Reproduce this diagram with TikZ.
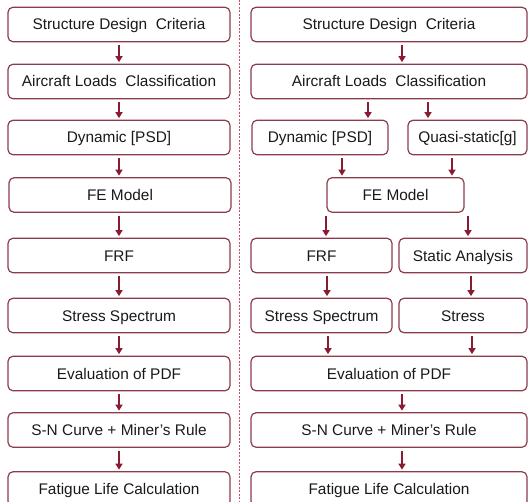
\documentclass[tikz,border=0pt]{standalone}
\usepackage{fontspec}
\setmainfont{Liberation Sans}
\usepackage{tikz}
\usetikzlibrary{positioning,arrows.meta}
\usepackage{xcolor}
\definecolor{boxred}{HTML}{8C3B4B}
\definecolor{arrred}{HTML}{8B1A33}
\definecolor{seppink}{HTML}{D04A6A}

\begin{document}
\begin{tikzpicture}[x=1bp,y=-1bp,
  box/.style={draw=boxred,line width=1.2bp,rounded corners=5bp,minimum height=34.5bp,
    inner sep=0pt,text height=11bp,text depth=0pt,text=black!90,font=\fontsize{15.4bp}{18bp}\selectfont},
  arr/.style={arrred,line width=1.5bp,-{Triangle[width=7bp,length=6bp]},shorten <=3bp,shorten >=1.5bp}]
\useasboundingbox (0,0) rectangle (528,502);
\clip (0,0) rectangle (528,502);
\draw[seppink,line width=1.2bp,dash pattern=on 2bp off 1.5bp] (239.5,0) -- (239.5,502);
% left: dynamic only
\node[box,minimum width=222bp] (crit) at (119,24.5) {Structure Design\ \ Criteria};
\node[box,minimum width=222bp] (loads) at (119,81.5) {Aircraft Loads\ \ Classification};
\node[box,minimum width=222bp] (dyn) at (119,137.5) {Dynamic [PSD]};
\node[box,minimum width=222bp] (fe) at (120,195) {FE Model};
\node[box,minimum width=222bp] (frf) at (119,255.5) {FRF};
\node[box,minimum width=222bp] (spec) at (119,315.5) {Stress Spectrum};
\node[box,minimum width=222bp] (pdf) at (119,373.5) {Evaluation of PDF};
\node[box,minimum width=222bp] (sn) at (119,430) {S-N Curve + Miner’s Rule};
\node[box,minimum width=222bp] (life) at (119,489) {Fatigue Life Calculation};
\foreach \a/\b in {crit/loads,loads/dyn,dyn/fe,fe/frf,frf/spec,spec/pdf,pdf/sn,sn/life}
  \draw[arr] (\a.south -| crit.south) -- (\b.north -| crit.south);
% right: dynamic + quasi-static
\node[box,minimum width=276bp] (rcrit) at (389,24.5) {Structure Design\ \ Criteria};
\node[box,minimum width=276bp] (rloads) at (389,81.5) {Aircraft Loads\ \ Classification};
\node[box,minimum width=136bp] (rdyn) at (320,137.5) {Dynamic [PSD]};
\node[box,minimum width=119bp] (rqs) at (467.5,137.5) {Quasi-static[g]};
\node[box,minimum width=137bp] (rfe) at (395.5,195) {FE Model};
\node[box,minimum width=141bp] (rfrf) at (321.5,255.5) {FRF};
\node[box,minimum width=128bp] (rsa) at (463,255.5) {Static Analysis};
\node[box,minimum width=141bp] (rspec) at (321.5,315.5) {Stress Spectrum};
\node[box,minimum width=128bp] (rstr) at (463,315.5) {Stress};
\node[box,minimum width=276bp] (rpdf) at (389,373.5) {Evaluation of PDF};
\node[box,minimum width=276bp] (rsn) at (389,430) {S-N Curve + Miner’s Rule};
\node[box,minimum width=276bp] (rlife) at (389,489) {Fatigue Life Calculation};
\draw[arr] ([xshift=13bp]rcrit.south) -- ([xshift=13bp]rloads.north);
\draw[arr] ([xshift=48bp]rdyn.north |- rloads.south) -- ([xshift=48bp]rdyn.north);
\draw[arr] ([xshift=-39.5bp]rqs.north |- rloads.south) -- ([xshift=-39.5bp]rqs.north);
\draw[arr] ([xshift=22bp]rdyn.south) -- ([xshift=22bp]rdyn.south |- rfe.north);
\draw[arr] ([xshift=-15.5bp]rqs.south) -- ([xshift=-15.5bp]rqs.south |- rfe.north);
\draw[arr] ([xshift=4.5bp]rfrf.north |- rfe.south) -- ([xshift=4.5bp]rfrf.north);
\draw[arr] ([xshift=5bp]rsa.north |- rfe.south) -- ([xshift=5bp]rsa.north);
\draw[arr] ([xshift=5.5bp]rfrf.south) -- ([xshift=5.5bp]rspec.north);
\draw[arr] ([xshift=8bp]rsa.south) -- ([xshift=8bp]rstr.north);
\draw[arr] ([xshift=6.5bp]rspec.south) -- ([xshift=6.5bp]rspec.south |- rpdf.north);
\draw[arr] ([xshift=9bp]rstr.south) -- ([xshift=9bp]rstr.south |- rpdf.north);
\draw[arr] ([xshift=13bp]rpdf.south) -- ([xshift=13bp]rsn.north);
\draw[arr] ([xshift=13bp]rsn.south) -- ([xshift=13bp]rlife.north);
\end{tikzpicture}
\end{document}
